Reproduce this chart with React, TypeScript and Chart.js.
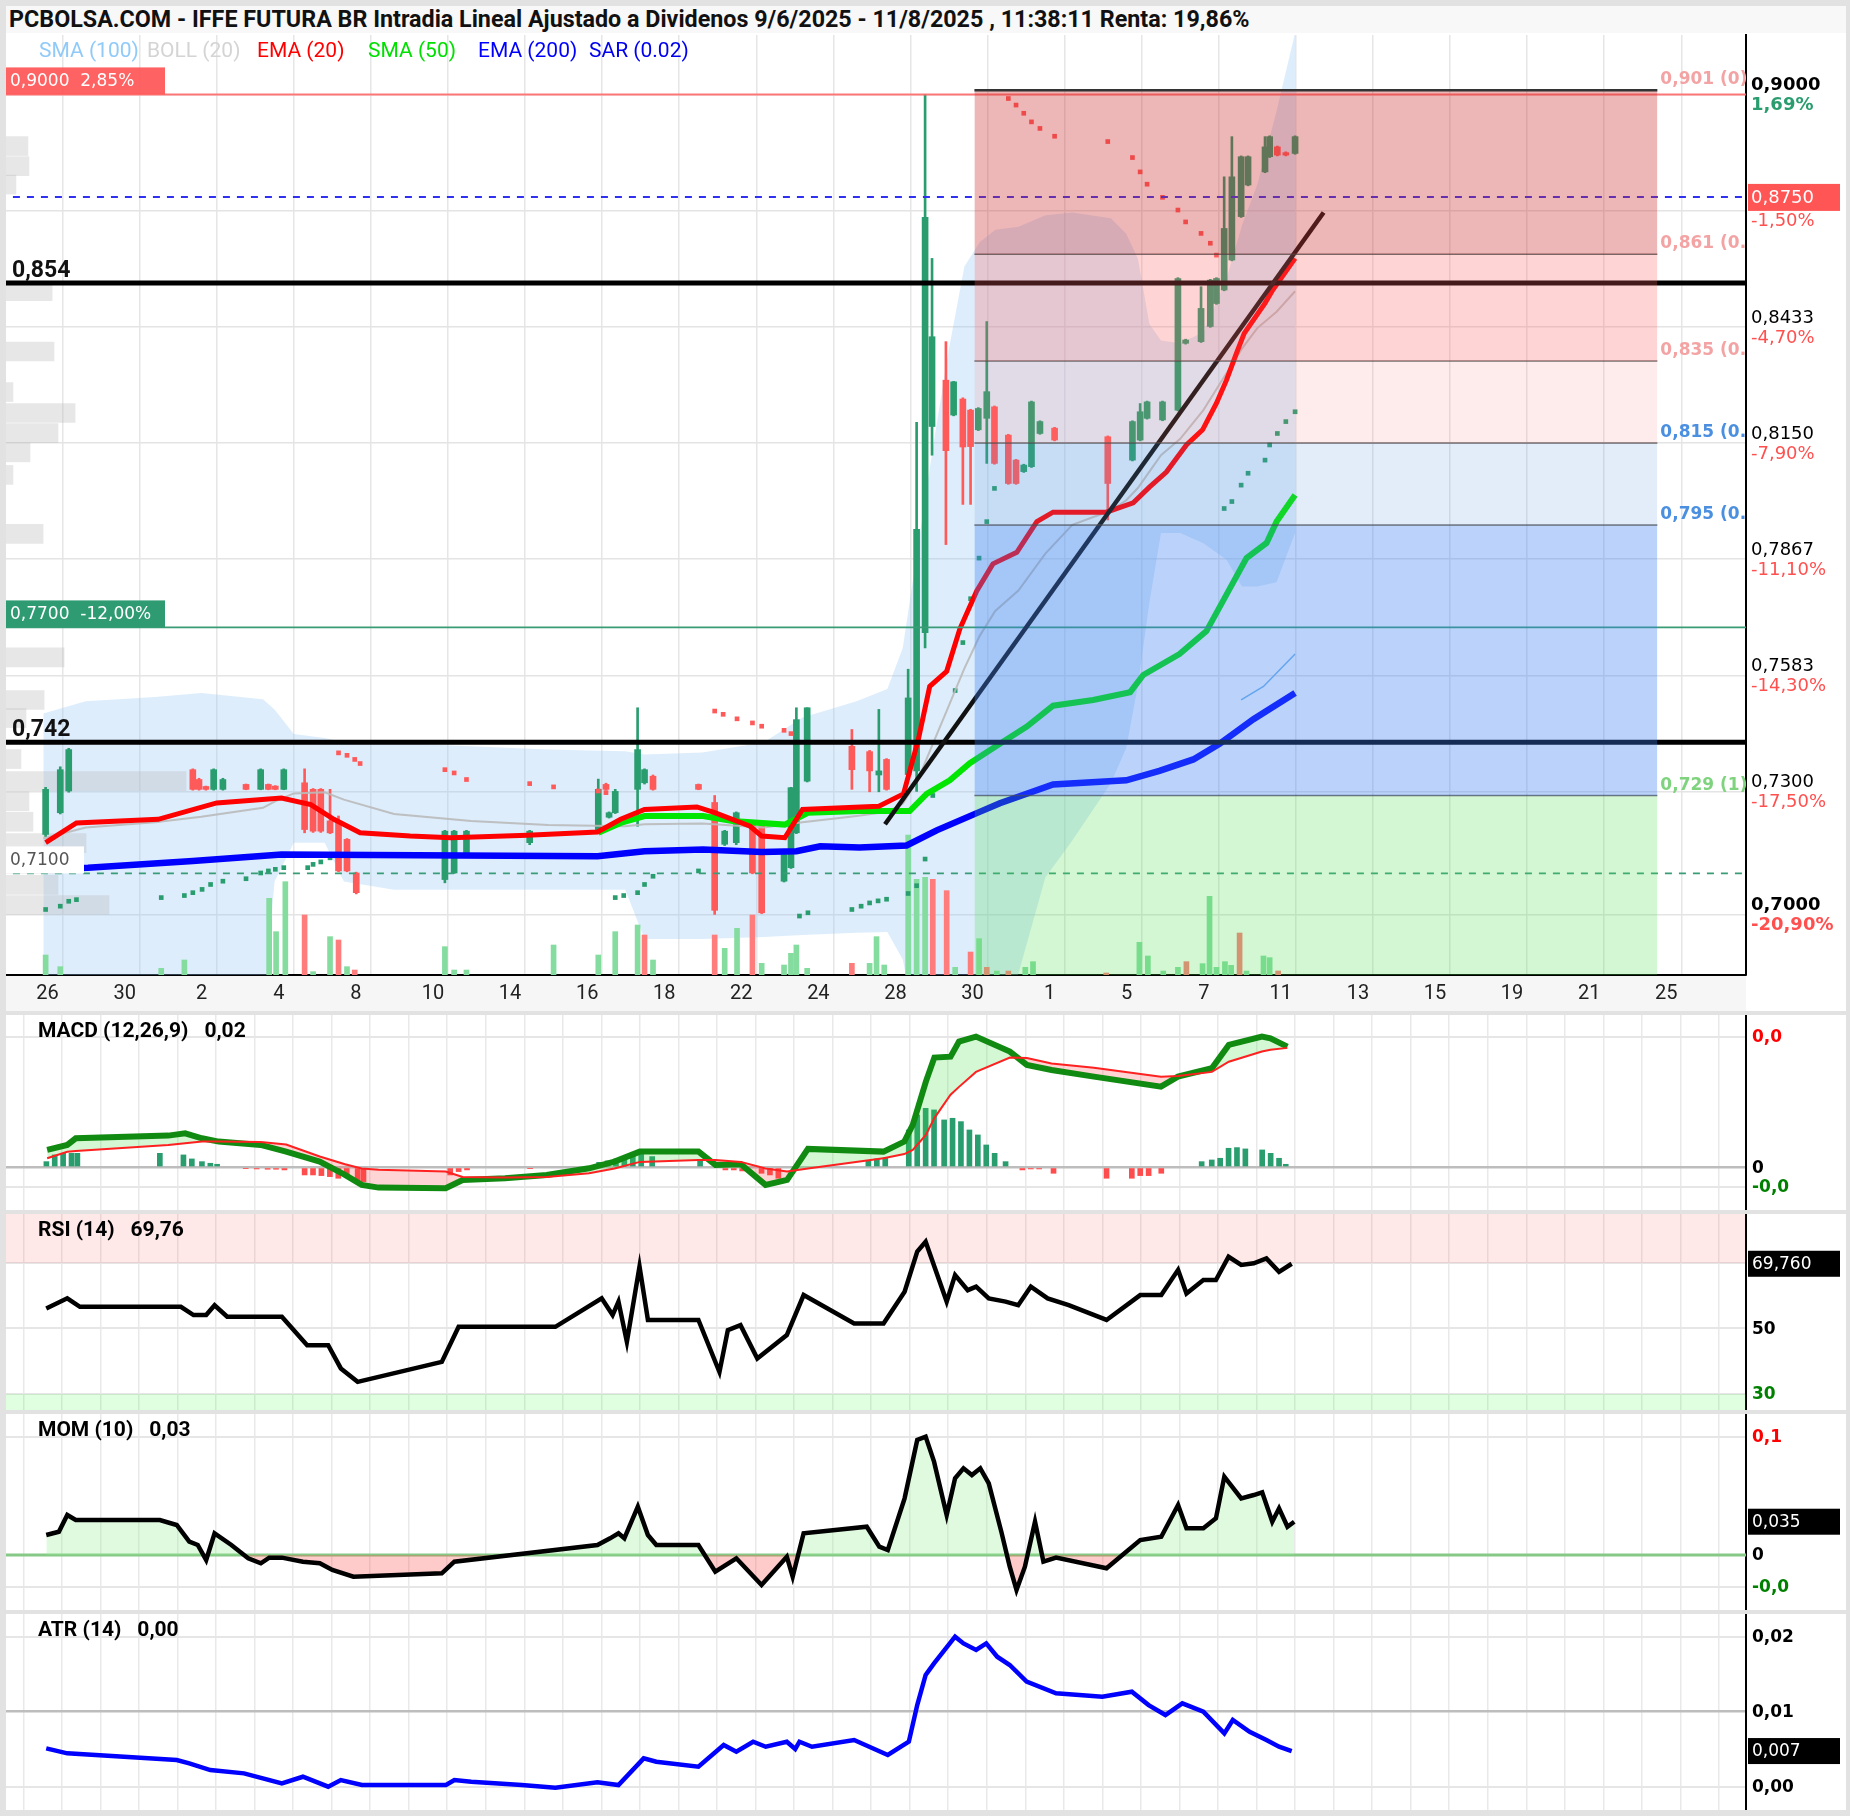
import React, { useEffect, useRef } from 'react';
import { Chart, registerables } from 'chart.js';

Chart.register(...registerables);

const TITLE = 'PCBOLSA.COM - IFFE FUTURA BR Intradia Lineal Ajustado a Dividenos 9/6/2025 - 11/8/2025 , 11:38:11 Renta: 19,86%';

const X_MIN = -0.534;
const X_MAX = 22.04;
const Y_MIN = 0.68522;
const Y_MAX = 0.91449;

const xLabels = ['26', '30', '2', '4', '8', '10', '14', '16', '18', '22', '24', '28', '30', '1', '5', '7', '11', '13', '15', '19', '21', '25'];

// [x, open, high, low, close]
const candles = [
  [-0.02, 0.7195, 0.731, 0.719, 0.7305], [0.17, 0.7248, 0.736, 0.7245, 0.7353], [0.28, 0.7301, 0.7405, 0.7298, 0.7402],
  [1.89, 0.7353, 0.7355, 0.7303, 0.7305], [1.97, 0.7329, 0.7332, 0.7303, 0.7305], [2.06, 0.7312, 0.7313, 0.7303, 0.7305],
  [2.16, 0.7305, 0.7355, 0.7303, 0.7353], [2.28, 0.7305, 0.7332, 0.7303, 0.7329], [2.58, 0.7317, 0.7318, 0.7304, 0.7305],
  [2.77, 0.7305, 0.7355, 0.7304, 0.7353], [2.87, 0.7317, 0.7318, 0.7304, 0.7305], [2.96, 0.7313, 0.7314, 0.7304, 0.7305],
  [3.07, 0.7305, 0.7355, 0.7304, 0.7353], [3.34, 0.7321, 0.7355, 0.7199, 0.7207], [3.45, 0.7305, 0.7307, 0.72, 0.7203],
  [3.55, 0.7305, 0.7307, 0.72, 0.7203], [3.67, 0.7228, 0.7305, 0.7197, 0.7199], [3.78, 0.7224, 0.724, 0.7104, 0.7106],
  [3.89, 0.7183, 0.7185, 0.7104, 0.7106], [4.01, 0.7101, 0.7103, 0.705, 0.7053],
  [5.16, 0.7085, 0.7205, 0.7077, 0.7203], [5.28, 0.7101, 0.7205, 0.71, 0.7203], [5.44, 0.715, 0.7205, 0.7148, 0.7203],
  [6.26, 0.7175, 0.7205, 0.717, 0.7203],
  [7.15, 0.7199, 0.733, 0.7198, 0.7305], [7.25, 0.7317, 0.732, 0.7303, 0.7305], [7.29, 0.7237, 0.725, 0.7235, 0.7248],
  [7.37, 0.7248, 0.7305, 0.7246, 0.73], [7.66, 0.7305, 0.7504, 0.7215, 0.7402], [7.75, 0.7321, 0.7355, 0.7318, 0.7353],
  [7.86, 0.7337, 0.734, 0.7303, 0.7305], [8.45, 0.7317, 0.7318, 0.7304, 0.7305], [8.66, 0.7273, 0.729, 0.7, 0.701],
  [8.79, 0.7171, 0.7205, 0.7168, 0.7203], [8.94, 0.7175, 0.725, 0.717, 0.7248], [9.15, 0.7224, 0.7226, 0.7099, 0.7101],
  [9.27, 0.7215, 0.7217, 0.7002, 0.7004], [9.56, 0.7081, 0.7148, 0.7079, 0.7146], [9.65, 0.7114, 0.731, 0.7112, 0.7309],
  [9.72, 0.7199, 0.7504, 0.7197, 0.7475], [9.86, 0.7325, 0.7504, 0.7323, 0.7504], [10.44, 0.741, 0.7451, 0.7305, 0.7353],
  [10.67, 0.7397, 0.74, 0.7299, 0.735], [10.79, 0.734, 0.75, 0.7299, 0.735], [10.89, 0.7378, 0.738, 0.7303, 0.7305],
  [11.17, 0.7341, 0.7598, 0.7331, 0.7528], [11.28, 0.735, 0.82, 0.73, 0.7939], [11.39, 0.7687, 0.9, 0.765, 0.87],
  [11.48, 0.819, 0.86, 0.812, 0.8409], [11.66, 0.8303, 0.8397, 0.7902, 0.8131], [11.76, 0.8218, 0.83, 0.8216, 0.8299],
  [11.88, 0.8257, 0.826, 0.8, 0.814], [11.98, 0.823, 0.8232, 0.8, 0.8141], [12.08, 0.8182, 0.8236, 0.818, 0.8234],
  [12.19, 0.821, 0.8446, 0.81, 0.8275], [12.29, 0.8238, 0.824, 0.8098, 0.81], [12.47, 0.8169, 0.8171, 0.8049, 0.8051],
  [12.57, 0.8108, 0.811, 0.8049, 0.8051], [12.67, 0.808, 0.8098, 0.8078, 0.8096], [12.77, 0.8092, 0.8252, 0.809, 0.825],
  [12.88, 0.8173, 0.8204, 0.8171, 0.8202], [13.07, 0.8186, 0.8188, 0.8155, 0.8157], [13.76, 0.8165, 0.8167, 0.7962, 0.8051],
  [14.08, 0.8108, 0.8204, 0.8106, 0.8202], [14.18, 0.8157, 0.8246, 0.8155, 0.8226], [14.27, 0.821, 0.8252, 0.8208, 0.825],
  [14.47, 0.8206, 0.8252, 0.8204, 0.825], [14.67, 0.823, 0.8553, 0.8228, 0.8551], [14.77, 0.8393, 0.8403, 0.8391, 0.8401],
  [14.97, 0.8397, 0.8531, 0.8395, 0.8478], [15.09, 0.8434, 0.8549, 0.8432, 0.8547], [15.17, 0.849, 0.8553, 0.8488, 0.8551],
  [15.27, 0.8523, 0.8799, 0.8521, 0.8673], [15.37, 0.8596, 0.8897, 0.8594, 0.8799], [15.49, 0.8702, 0.885, 0.87, 0.8848],
  [15.58, 0.8779, 0.885, 0.8777, 0.8848], [15.8, 0.8811, 0.8897, 0.8809, 0.8872], [15.86, 0.8848, 0.8899, 0.8846, 0.8897],
  [15.96, 0.8872, 0.8874, 0.885, 0.8852], [16.07, 0.8858, 0.886, 0.885, 0.8852], [16.19, 0.8856, 0.8899, 0.8854, 0.8897],
];

// [x, volume (thousands), 1 = up / 0 = down]
const volumeBars = [
  [-0.02, 6, 1], [0.17, 2.5, 1], [1.48, 2, 1], [1.78, 4.5, 1], [2.88, 23, 1], [2.97, 13, 1], [3.09, 28, 1], [3.34, 18, 0],
  [3.45, 1, 1], [3.67, 11.5, 1], [3.78, 10.5, 0], [3.89, 2.5, 1], [3.99, 1.5, 0], [5.16, 8.5, 1], [5.28, 1.5, 1], [5.44, 1.5, 1],
  [6.57, 9, 1], [7.15, 6, 1], [7.37, 13, 1], [7.66, 15, 1], [7.75, 12, 0], [7.86, 4.5, 1], [8.66, 12, 0], [8.79, 8, 1],
  [8.95, 14, 1], [9.15, 18, 0], [9.27, 3.5, 1], [9.56, 3, 1], [9.65, 6.5, 1], [9.72, 9, 1], [9.86, 2, 1], [10.44, 3.5, 0],
  [10.67, 3.5, 1], [10.76, 11.5, 1], [10.86, 3, 1], [11.17, 42, 1], [11.28, 28.7, 1], [11.39, 29.3, 1], [11.49, 28.7, 0],
  [11.67, 25.3, 0], [11.78, 2.3, 1], [11.98, 6.9, 0], [12.09, 10.9, 1], [12.19, 2.3, 0], [12.32, 1.2, 1], [12.47, 1.2, 0],
  [12.69, 2.3, 1], [12.79, 4, 1], [13.74, 0.6, 0], [14.17, 9.8, 1], [14.28, 5.7, 1], [14.48, 1.2, 1], [14.67, 2.3, 1],
  [14.78, 4, 0], [14.99, 3.4, 1], [15.08, 23.6, 1], [15.17, 2.3, 1], [15.28, 4, 1], [15.36, 2.9, 1], [15.47, 12.6, 0],
  [15.56, 1.2, 1], [15.78, 5.7, 1], [15.86, 5.2, 1], [15.97, 1.2, 0],
];

// [price level, volume]
const volumeProfile = [
  [0.8874, 12.6], [0.8825, 13.2], [0.878, 5.7], [0.852, 26.5], [0.8373, 27.6], [0.8274, 4], [0.8223, 39.7], [0.8174, 29.9],
  [0.8127, 13.8], [0.8072, 4], [0.7928, 21.3], [0.7627, 33.4], [0.7523, 21.9], [0.7479, 11.5], [0.7379, 8.6], [0.7325, 103.5],
  [0.7276, 13.2], [0.7226, 15.5], [0.7174, 46], [0.7123, 29.9], [0.7072, 29.9], [0.7023, 59.2],
];

// [x, upper, middle, lower]
const bollinger = [
  [-0.05, 0.749, 0.7185, 0.67], [0.5, 0.752, 0.7212, 0.67], [1.4, 0.753, 0.7225, 0.67], [2.0, 0.754, 0.7238, 0.67],
  [2.8, 0.7525, 0.726, 0.675], [2.95, 0.75, 0.7275, 0.708], [3.2, 0.744, 0.7295, 0.7175], [3.6, 0.743, 0.7298, 0.7175],
  [3.85, 0.742, 0.728, 0.708], [4.5, 0.7418, 0.7245, 0.706], [5.5, 0.741, 0.7228, 0.706], [6.5, 0.7402, 0.7218, 0.706],
  [7.5, 0.7398, 0.7215, 0.706], [7.75, 0.739, 0.722, 0.694], [8.5, 0.7395, 0.7222, 0.694], [9.3, 0.742, 0.7212, 0.6945],
  [9.8, 0.748, 0.7225, 0.695], [10.5, 0.752, 0.724, 0.6955], [10.9, 0.755, 0.725, 0.6957], [11.1, 0.765, 0.727, 0.689],
  [11.3, 0.79, 0.733, 0.67], [11.5, 0.815, 0.742, 0.66], [11.7, 0.838, 0.751, 0.66], [11.9, 0.858, 0.76, 0.66],
  [12.1, 0.864, 0.768, 0.66], [12.3, 0.867, 0.774, 0.66], [12.6, 0.8677, 0.779, 0.6855], [12.95, 0.8705, 0.788, 0.709],
  [13.3, 0.8712, 0.795, 0.718], [13.8, 0.8698, 0.7985, 0.732], [14.0, 0.866, 0.801, 0.7406], [14.15, 0.86, 0.804, 0.7557],
  [14.3, 0.844, 0.808, 0.776], [14.45, 0.84, 0.812, 0.793], [14.7, 0.8393, 0.816, 0.793], [15.0, 0.842, 0.823, 0.7905],
  [15.3, 0.855, 0.832, 0.7865], [15.5, 0.868, 0.838, 0.78], [15.7, 0.878, 0.843, 0.78], [15.95, 0.896, 0.847, 0.781],
  [16.19, 0.915, 0.852, 0.793],
];

const ema20 = [
  [-0.02, 0.7175], [0.38, 0.7223], [1.44, 0.7232], [2.2, 0.7272], [3.04, 0.7284], [3.42, 0.7268], [3.72, 0.7232], [4.06, 0.7199],
  [4.71, 0.7191], [5.24, 0.7187], [6.23, 0.7193], [7.14, 0.7201], [7.44, 0.7232], [7.75, 0.7256], [8.43, 0.7262], [8.66, 0.7248],
  [9.12, 0.7215], [9.27, 0.7191], [9.57, 0.7187], [9.8, 0.7256], [10.79, 0.7264], [11.11, 0.7294], [11.3, 0.7425], [11.45, 0.7556],
  [11.67, 0.7593], [11.84, 0.7696], [12.06, 0.7789], [12.27, 0.7855], [12.58, 0.7883], [12.84, 0.7958], [13.05, 0.7981],
  [13.74, 0.7981], [14.09, 0.8004], [14.3, 0.8042], [14.52, 0.8079], [14.78, 0.8145], [14.99, 0.8182], [15.17, 0.8247],
  [15.3, 0.8303], [15.43, 0.8369], [15.53, 0.8417], [15.8, 0.8491], [15.9, 0.8523], [16.19, 0.86],
];

const sma50 = [
  [7.15, 0.7199], [7.44, 0.7223], [7.75, 0.724], [8.51, 0.724], [8.89, 0.7228], [9.57, 0.7219], [9.87, 0.7248], [10.54, 0.7252],
  [11.19, 0.7252], [11.41, 0.7294], [11.71, 0.7327], [11.97, 0.7369], [12.36, 0.7416], [12.71, 0.7458], [13.05, 0.7509],
  [13.57, 0.7523], [14.05, 0.7542], [14.22, 0.7584], [14.69, 0.7635], [15.04, 0.7691], [15.3, 0.778], [15.56, 0.7869],
  [15.82, 0.7906], [15.95, 0.7958], [16.19, 0.8023],
];

const ema200 = [
  [0.0, 0.711], [0.53, 0.7114], [1.89, 0.713], [3.04, 0.7146], [7.14, 0.7142], [7.75, 0.7154], [8.51, 0.7158], [9.27, 0.7152],
  [9.72, 0.7154], [10.03, 0.7166], [10.54, 0.7163], [11.15, 0.7168], [11.54, 0.7205], [12.06, 0.7247], [12.36, 0.7271],
  [13.05, 0.7317], [14.0, 0.7327], [14.43, 0.735], [14.87, 0.7378], [15.21, 0.7416], [15.65, 0.7476], [16.19, 0.754],
];

const sma100 = [[15.49, 0.7523], [15.78, 0.7556], [16.19, 0.7635]];

const sarBelow = [
  [-0.02, 0.7012], [0.17, 0.702], [0.28, 0.7032], [0.38, 0.7036], [1.48, 0.7041], [1.78, 0.7046], [1.89, 0.7053], [2.01, 0.7061],
  [2.12, 0.7073], [2.28, 0.7081], [2.58, 0.7087], [2.77, 0.7101], [2.87, 0.7106], [2.96, 0.711], [3.07, 0.7114], [3.38, 0.7114],
  [3.45, 0.7122], [3.55, 0.7128], [3.67, 0.7138], [7.37, 0.7041], [7.48, 0.7046], [7.66, 0.7053], [7.75, 0.7073], [7.86, 0.7093],
  [8.45, 0.7106], [9.76, 0.6996], [9.87, 0.7004], [10.44, 0.7012], [10.56, 0.702], [10.67, 0.7028], [10.78, 0.7033],
  [10.89, 0.7037], [11.17, 0.7051], [11.28, 0.707], [11.39, 0.7135], [11.49, 0.729], [11.78, 0.7546], [11.88, 0.7663],
  [11.98, 0.777], [12.09, 0.7869], [12.19, 0.7958], [12.29, 0.8039], [15.27, 0.799], [15.37, 0.8007], [15.49, 0.8047],
  [15.58, 0.8076], [15.8, 0.8108], [15.86, 0.8145], [15.96, 0.8173], [16.07, 0.8202], [16.19, 0.8226],
];

const sarAbove = [
  [3.78, 0.7394], [3.89, 0.7388], [3.99, 0.7378], [4.06, 0.7368], [5.16, 0.7353], [5.28, 0.7345], [5.44, 0.7329], [6.26, 0.7319],
  [6.57, 0.7311], [7.15, 0.7301], [7.25, 0.7297], [8.66, 0.7496], [8.77, 0.7488], [8.95, 0.7477], [9.15, 0.7467], [9.27, 0.7459],
  [9.56, 0.7449], [9.65, 0.7441], [12.47, 0.899], [12.57, 0.8974], [12.67, 0.8954], [12.77, 0.8933], [12.88, 0.8917],
  [13.07, 0.8898], [13.76, 0.8885], [14.08, 0.8846], [14.18, 0.8811], [14.27, 0.8781], [14.47, 0.8749], [14.67, 0.8718],
  [14.77, 0.8689], [14.97, 0.8661], [15.09, 0.8637], [15.17, 0.8608],
];

const trendLine = [[10.87, 0.722], [16.56, 0.8712]];

const fibLevels = [0.901, 0.861, 0.835, 0.815, 0.795, 0.729];
const fibNames = ['0,901 (0)', '0,861 (0.236)', '0,835 (0.382)', '0,815 (0.5)', '0,795 (0.618)', '0,729 (1)'];
const FIB_X0 = 12.03;
const FIB_X1 = 20.89;

const axisValues = [0.9, 0.8717, 0.8433, 0.815, 0.7867, 0.7583, 0.73, 0.7];
const axisPrices = ['0,9000', '', '0,8433', '0,8150', '0,7867', '0,7583', '0,7300', '0,7000'];
const axisPercents = ['1,69%', '-1,50%', '-4,70%', '-7,90%', '-11,10%', '-14,30%', '-17,50%', '-20,90%'];
const LAST_PRICE = 0.875;

const legendItems = ['SMA (100)', 'BOLL (20)', 'EMA (20)', 'SMA (50)', 'EMA (200)', 'SAR (0.02)'];

// MACD: [x, macd, signal]
const macd = [
  [0.0, 0.00289, 0.0015], [0.261, 0.00372, 0.0026], [0.371, 0.00483, 0.0027], [1.571, 0.00528, 0.0037], [1.79, 0.00567, 0.004],
  [2.008, 0.00483, 0.0043], [2.226, 0.00428, 0.0043], [2.77, 0.00372, 0.0042], [3.1, 0.00261, 0.0038], [3.536, 0.00094, 0.0018],
  [3.864, -0.00128, 0.0005], [4.08, -0.00294, -0.0002], [4.3, -0.00339, -0.0004], [5.17, -0.0035, -0.0007], [5.39, -0.00211, -0.0016],
  [5.94, -0.00183, -0.0017], [6.48, -0.00128, -0.0016], [7.03, -0.00017, -0.001], [7.36, 0.00094, -0.0002], [7.69, 0.00261, 0.0009],
  [8.45, 0.00261, 0.0012], [8.67, 0.00039, 0.0012], [9.0, 0.0005, 0.0009], [9.32, -0.00294, -0.0002], [9.6, -0.00211, -0.0007],
  [9.87, 0.00306, -0.0002], [10.85, 0.00261, 0.0015], [11.12, 0.00428, 0.0022], [11.23, 0.00706, 0.0029], [11.4, 0.01428, 0.0054],
  [11.51, 0.01828, 0.0082], [11.72, 0.01844, 0.0121], [11.83, 0.02094, 0.0134], [12.05, 0.02178, 0.0159], [12.49, 0.01928, 0.0183],
  [12.71, 0.01706, 0.0182], [13.03, 0.01622, 0.0173], [13.58, 0.01511, 0.0166], [14.45, 0.01344, 0.0151], [14.67, 0.01511, 0.0152],
  [15.11, 0.0165, 0.0159], [15.33, 0.02039, 0.0176], [15.76, 0.02178, 0.0193], [15.87, 0.0215, 0.0196], [16.09, 0.02011, 0.0199],
];

const macdHist = [
  [-0.01, 0.00094], [0.098, 0.00206], [0.207, 0.00233], [0.316, 0.00233], [0.392, 0.00233], [1.462, 0.00233], [1.768, 0.00206],
  [1.877, 0.00139], [2.008, 0.00094], [2.117, 0.00067], [2.205, 0.0005], [2.576, -0.00017], [2.718, -0.00028], [2.86, -0.00033],
  [2.969, -0.00033], [3.078, -0.00044], [3.34, -0.00128], [3.449, -0.00128], [3.558, -0.00139], [3.668, -0.00156], [3.777, -0.00183],
  [3.886, -0.00172], [4.028, -0.00239], [4.104, -0.00239], [5.229, -0.00128], [5.338, -0.00072], [5.447, -0.00044], [6.266, -0.00017],
  [7.161, 0.00083], [7.27, 0.00106], [7.379, 0.00139], [7.488, 0.00161], [7.598, 0.00194], [7.707, 0.00217], [7.849, 0.00178],
  [8.471, 0.00106], [8.799, -0.00044], [8.908, -0.00044], [9.017, -0.00061], [9.268, -0.001], [9.377, -0.00128], [9.486, -0.00183],
  [10.654, 0.00106], [10.764, 0.00139], [10.873, 0.00161], [11.178, 0.00622], [11.288, 0.00872], [11.397, 0.00983], [11.506, 0.00956],
  [11.637, 0.00789], [11.746, 0.00817], [11.855, 0.00761], [11.965, 0.00622], [12.074, 0.00539], [12.183, 0.00372], [12.292, 0.00233],
  [12.434, 0.00094], [12.652, -0.00044], [12.761, -0.00028], [12.87, -0.00028], [13.056, -0.001], [13.744, -0.00183],
  [14.072, -0.00183], [14.181, -0.00139], [14.29, -0.00139], [14.454, -0.001], [14.978, 0.00094], [15.109, 0.00122], [15.218, 0.0015],
  [15.327, 0.00317], [15.436, 0.00328], [15.545, 0.00306], [15.763, 0.00289], [15.873, 0.00233], [15.982, 0.0015], [16.069, 0.0005],
];

const rsi = [
  [-0.012, 56.1], [0.261, 59.2], [0.425, 56.6], [1.735, 56.6], [1.899, 54.1], [2.063, 54.1], [2.172, 57.1], [2.336, 53.6],
  [3.045, 53.6], [3.373, 44.9], [3.646, 44.9], [3.81, 37.8], [4.028, 33.7], [5.12, 39.8], [5.338, 50.5], [6.593, 50.5],
  [7.194, 59.2], [7.336, 54.1], [7.412, 58.2], [7.521, 45.9], [7.685, 68.9], [7.794, 52.6], [8.449, 52.6], [8.722, 36.7],
  [8.831, 49.5], [8.995, 51.0], [9.213, 40.8], [9.596, 48.0], [9.814, 60.2], [10.469, 51.5], [10.851, 51.5], [11.124, 61.2],
  [11.288, 73.5], [11.397, 76.5], [11.67, 58.2], [11.779, 66.3], [11.943, 61.7], [12.052, 62.8], [12.216, 59.2], [12.434, 58.2],
  [12.598, 57.1], [12.762, 62.8], [12.98, 59.2], [13.253, 57.1], [13.744, 52.6], [14.181, 60.2], [14.454, 60.2], [14.672, 67.9],
  [14.781, 60.7], [15.0, 64.8], [15.163, 64.8], [15.327, 71.9], [15.491, 69.4], [15.654, 69.9], [15.818, 71.4], [15.982, 67.3],
  [16.146, 69.76],
];

const momentum = [
  [-0.012, 0.0212], [0.152, 0.0247], [0.261, 0.0424], [0.371, 0.0371], [1.462, 0.0371], [1.681, 0.0318], [1.844, 0.0141],
  [1.954, 0.0106], [2.063, -0.0053], [2.172, 0.023], [2.39, 0.0106], [2.608, -0.0035], [2.772, -0.0088], [2.881, -0.0028],
  [3.045, -0.0028], [3.318, -0.0071], [3.537, -0.0088], [3.7, -0.0159], [3.973, -0.023], [5.12, -0.0194], [5.283, -0.0071],
  [7.139, 0.0106], [7.303, 0.0177], [7.412, 0.023], [7.488, 0.0177], [7.663, 0.0513], [7.794, 0.0212], [7.903, 0.0106],
  [8.449, 0.0106], [8.668, -0.0177], [8.941, -0.0035], [9.268, -0.0318], [9.596, -0.0018], [9.672, -0.023], [9.814, 0.023],
  [10.633, 0.03], [10.796, 0.0088], [10.906, 0.0053], [11.124, 0.0601], [11.288, 0.122], [11.397, 0.1255], [11.506, 0.099],
  [11.67, 0.0424], [11.779, 0.0813], [11.888, 0.0919], [11.997, 0.0848], [12.106, 0.0919], [12.216, 0.076], [12.379, 0.0247],
  [12.488, -0.0124], [12.576, -0.0371], [12.685, -0.0124], [12.816, 0.0353], [12.925, -0.0071], [13.089, -0.0028],
  [13.744, -0.0141], [14.181, 0.0159], [14.454, 0.0194], [14.672, 0.053], [14.781, 0.0283], [15.0, 0.0283], [15.163, 0.0389],
  [15.272, 0.0831], [15.491, 0.0601], [15.654, 0.0636], [15.763, 0.0665], [15.894, 0.0353], [15.982, 0.0495], [16.091, 0.03],
  [16.179, 0.0353],
];

const atr = [
  [-0.012, 0.00764], [0.261, 0.00708], [1.681, 0.00632], [1.844, 0.00594], [2.117, 0.00519], [2.554, 0.00481], [3.045, 0.00368],
  [3.318, 0.00443], [3.646, 0.0033], [3.81, 0.00405], [4.083, 0.00349], [5.174, 0.00349], [5.283, 0.00405], [5.502, 0.00387],
  [6.157, 0.00349], [6.593, 0.00319], [7.139, 0.00379], [7.412, 0.00349], [7.739, 0.00651], [7.903, 0.00613], [8.449, 0.00557],
  [8.777, 0.00802], [8.941, 0.00727], [9.159, 0.0084], [9.323, 0.00783], [9.596, 0.0084], [9.705, 0.00757], [9.76, 0.0084],
  [9.923, 0.00783], [10.469, 0.00859], [10.906, 0.00689], [11.179, 0.0084], [11.288, 0.01255], [11.397, 0.01596], [11.506, 0.01728],
  [11.779, 0.0203], [11.888, 0.01954], [12.052, 0.01879], [12.183, 0.01954], [12.325, 0.01803], [12.488, 0.01709], [12.707, 0.0152],
  [13.089, 0.01388], [13.689, 0.0135], [14.072, 0.01407], [14.29, 0.01255], [14.508, 0.01142], [14.727, 0.01274], [15.0, 0.0118],
  [15.272, 0.00934], [15.382, 0.01086], [15.6, 0.00953], [15.818, 0.00859], [15.982, 0.00783], [16.146, 0.00734],
];

const GREEN = '#2a9d6f';
const RED = '#ff5a5a';

function pts(arr: number[][], k = 1) {
  return arr.map((p) => ({ x: p[0], y: p[k] }));
}

function lineDs(data: any[], color: string, width: number, order: number, extra: any = {}) {
  return { type: 'line', data, borderColor: color, borderWidth: width, pointRadius: 0, tension: 0, fill: false, order, ...extra };
}

function hLine(v: number, color: string, width: number, order: number, dash: number[] = []) {
  return lineDs([{ x: X_MIN - 1, y: v }, { x: X_MAX + 1, y: v }], color, width, order, { borderDash: dash });
}

function buildMain(): any {
  const up = candles.filter((c) => c[4] >= c[1]);
  const dn = candles.filter((c) => c[4] < c[1]);
  const fibFills = ['rgba(205,45,45,0.34)', 'rgba(250,95,95,0.27)', 'rgba(250,120,120,0.15)', 'rgba(100,150,220,0.18)', 'rgba(60,130,240,0.35)', 'rgba(80,220,80,0.25)'];
  const fibLabelColors = ['#f3a3a3', '#f3a3a3', '#f3a3a3', '#4a8fe0', '#4a8fe0', '#7fd37f'];
  const legendColors = ['#90caf9', '#d4d4d4', '#ff0000', '#00e000', '#0000ff', '#0000ee'];
  const legendX = [33, 141, 251, 362, 472, 583];

  const datasets: any[] = [
    lineDs(pts(bollinger, 1), 'rgba(0,0,0,0)', 0, 100, { fill: '+1', backgroundColor: 'rgba(150,200,245,0.32)' }),
    lineDs(pts(bollinger, 3), 'rgba(0,0,0,0)', 0, 100),
    {
      type: 'bar', indexAxis: 'y', xAxisID: 'xp', yAxisID: 'y',
      data: volumeProfile.map((p) => ({ y: p[0], x: p[1] })),
      backgroundColor: 'rgba(185,185,185,0.35)', barThickness: 19, grouped: false, order: 95,
    },
    {
      type: 'bar', yAxisID: 'yv', data: volumeBars.map((v) => ({ x: v[0], y: v[1] })),
      backgroundColor: volumeBars.map((v) => (v[2] ? '#84dc9f' : '#ff7c7c')), barThickness: 5, grouped: false, order: 90,
    },
    { type: 'bar', data: up.map((c) => ({ x: c[0], y: [c[3], c[2]] })), backgroundColor: GREEN, barThickness: 2, grouped: false, order: 82 },
    { type: 'bar', data: dn.map((c) => ({ x: c[0], y: [c[3], c[2]] })), backgroundColor: RED, barThickness: 2, grouped: false, order: 82 },
    { type: 'bar', data: up.map((c) => ({ x: c[0], y: [c[1], c[4]] })), backgroundColor: GREEN, barThickness: 6, minBarLength: 2, grouped: false, order: 81 },
    { type: 'bar', data: dn.map((c) => ({ x: c[0], y: [c[1], c[4]] })), backgroundColor: RED, barThickness: 6, minBarLength: 2, grouped: false, order: 81 },
    { type: 'scatter', data: pts(sarBelow), pointStyle: 'rect', pointRadius: 3.3, pointBackgroundColor: GREEN, pointBorderWidth: 0, showLine: false, order: 80 },
    { type: 'scatter', data: pts(sarAbove), pointStyle: 'rect', pointRadius: 3.3, pointBackgroundColor: RED, pointBorderWidth: 0, showLine: false, order: 80 },
    lineDs(pts(bollinger, 2), 'rgba(185,185,185,0.9)', 2, 70),
    lineDs(pts(sma100), '#7ab8f0', 1.5, 69),
    lineDs(pts(ema200), '#0000ff', 6.5, 68),
    lineDs(pts(sma50), '#00e600', 6, 67),
    lineDs(pts(ema20), '#ff0000', 5, 66),
    hLine(0.9, 'rgba(255,105,105,0.9)', 2, 60),
    hLine(LAST_PRICE, '#3030f0', 2, 60, [7, 7]),
    hLine(0.854, '#000000', 5, 60),
    hLine(0.77, '#3a9b77', 1.8, 60),
    hLine(0.742, '#000000', 5, 60),
    hLine(0.71, '#3a9b77', 1.8, 60, [7, 7]),
    lineDs(pts(trendLine), '#111111', 4.5, 59),
  ];
  fibLevels.forEach((lv, i) => {
    const bottom = i < fibLevels.length - 1 ? { value: fibLevels[i + 1] } : 'start';
    datasets.push(lineDs([{ x: FIB_X0, y: lv }, { x: FIB_X1, y: lv }], i === 0 ? '#333' : 'rgba(70,70,70,0.75)', i === 0 ? 2.5 : 1.5, 5, {
      fill: bottom, backgroundColor: fibFills[i],
    }));
  });

  const plugin = {
    id: 'mainDecor',
    beforeDraw(chart: any) {
      const { ctx, width, height, chartArea: ca } = chart;
      ctx.save();
      ctx.fillStyle = '#ffffff';
      ctx.fillRect(0, 0, width, height);
      ctx.fillStyle = '#f6f6f6';
      ctx.fillRect(0, ca.bottom, ca.right, height - ca.bottom);
      ctx.restore();
    },
    afterDraw(chart: any) {
      const { ctx, chartArea: ca } = chart;
      const ys = chart.scales.y;
      const xs = chart.scales.x;
      const Y = (v: number) => ys.getPixelForValue(v);
      ctx.save();
      ctx.font = '21px Roboto';
      ctx.textBaseline = 'middle';
      legendItems.forEach((t, i) => {
        ctx.fillStyle = legendColors[i];
        ctx.fillText(t, legendX[i], 19);
      });
      ctx.save();
      ctx.beginPath();
      ctx.rect(ca.left, ca.top, ca.right - ca.left, ca.bottom - ca.top);
      ctx.clip();
      ctx.font = 'bold 17px "DejaVu Sans"';
      ctx.textBaseline = 'alphabetic';
      fibLevels.forEach((lv, i) => {
        ctx.fillStyle = fibLabelColors[i];
        ctx.fillText(fibNames[i], xs.getPixelForValue(FIB_X1) + 3, Y(lv) - 6);
      });
      ctx.restore();

      ctx.font = 'bold 23px Roboto';
      ctx.fillStyle = '#111';
      ctx.textBaseline = 'alphabetic';
      ctx.fillText('0,854', ca.left + 6, Y(0.854) - 6);
      ctx.fillText('0,742', ca.left + 6, Y(0.742) - 6);

      const box = (v: number, w: number, bg: string, fg: string, text: string) => {
        const y = Y(v);
        ctx.fillStyle = bg;
        ctx.fillRect(ca.left, y - 27, w, 27);
        ctx.fillStyle = fg;
        ctx.font = '17px "DejaVu Sans"';
        ctx.textBaseline = 'middle';
        ctx.fillText(text, ca.left + 4, y - 13);
      };
      box(0.9, 159, 'rgba(255,85,85,0.92)', '#fff', '0,9000  2,85%');
      box(0.77, 159, '#2f9b72', '#fff', '0,7700  -12,00%');
      box(0.71, 78, '#fff', '#555', '0,7100');

      const lx = ca.right + 5;
      axisValues.forEach((v, i) => {
        const y = Y(v);
        const bold = i === 0 || i === axisValues.length - 1;
        ctx.font = (bold ? 'bold ' : '') + '18px "DejaVu Sans"';
        ctx.textBaseline = 'alphabetic';
        if (axisPrices[i]) {
          ctx.fillStyle = '#000';
          ctx.fillText(axisPrices[i], lx, y - 4);
        }
        ctx.fillStyle = i === 0 ? GREEN : '#ff5050';
        ctx.fillText(axisPercents[i], lx, y + 16);
      });
      const yc = Y(LAST_PRICE);
      ctx.fillStyle = '#ff5555';
      ctx.fillRect(ca.right + 2, yc - 13, 92, 27);
      ctx.fillStyle = '#fff';
      ctx.font = '18px "DejaVu Sans"';
      ctx.textBaseline = 'middle';
      ctx.fillText('0,8750', lx, yc + 1);
      ctx.restore();
    },
  };

  return {
    type: 'bar',
    data: { datasets },
    options: {
      responsive: false,
      animation: false,
      devicePixelRatio: 1,
      events: [],
      layout: { padding: { left: 0, right: 0, top: 2, bottom: 0 }, autoPadding: false },
      plugins: { legend: { display: false }, tooltip: { enabled: false } },
      scales: {
        x: {
          type: 'linear', min: X_MIN, max: X_MAX, offset: false,
          afterBuildTicks: (s: any) => { s.ticks = xLabels.map((_, i) => ({ value: i + 0.2 })); },
          ticks: { callback: (_v: any, i: number) => xLabels[i], font: { family: 'Roboto', size: 20 }, color: '#222', labelOffset: -15, padding: 7, maxRotation: 0, autoSkip: false },
          grid: { color: '#e6e6e6', lineWidth: 1.5, drawTicks: false, offset: false },
          border: { color: '#000', width: 2 },
          afterFit: (s: any) => { s.height = 36; },
        },
        xp: { type: 'linear', display: false, min: 0, max: 1000, offset: false, grid: { offset: false } },
        y: {
          type: 'linear', position: 'right', min: Y_MIN, max: Y_MAX, offset: false,
          afterBuildTicks: (s: any) => { s.ticks = axisValues.map((v) => ({ value: v })); },
          ticks: { display: false },
          grid: { color: '#e4e4e4', lineWidth: 1.5, drawTicks: false, offset: false },
          border: { color: '#000', width: 2 },
          afterFit: (s: any) => { s.width = 100; },
        },
        yv: { type: 'linear', display: false, min: 0, max: 282, offset: false, grid: { offset: false } },
      },
    },
    plugins: [plugin],
  };
}

type PanelLabel = { v: number; t: string; c: string };

function buildPanel(title: string, value: string, min: number, max: number, grid: number[], strong: number | null,
  datasets: any[], labels: PanelLabel[], box: { v: number; t: string } | null) {
  const plugin = {
    id: 'panel',
    beforeDraw(chart: any) {
      const { ctx, width, height } = chart;
      ctx.save();
      ctx.fillStyle = '#fff';
      ctx.fillRect(0, 0, width, height);
      ctx.restore();
    },
    afterDraw(chart: any) {
      const { ctx, chartArea: ca } = chart;
      const ys = chart.scales.y;
      ctx.save();
      ctx.font = 'bold 21px Roboto';
      ctx.fillStyle = '#000';
      ctx.textBaseline = 'middle';
      ctx.fillText(title, 32, 17);
      const w = ctx.measureText(title).width;
      ctx.fillText(value, 32 + w + 16, 17);
      ctx.font = 'bold 17px "DejaVu Sans"';
      labels.forEach((l) => {
        ctx.fillStyle = l.c;
        ctx.fillText(l.t, ca.right + 6, ys.getPixelForValue(l.v) + 1);
      });
      if (box) {
        const py = ys.getPixelForValue(box.v);
        ctx.fillStyle = '#000';
        ctx.fillRect(ca.right + 2, py - 13, 92, 26);
        ctx.fillStyle = '#fff';
        ctx.font = '17px "DejaVu Sans"';
        ctx.fillText(box.t, ca.right + 6, py + 1);
      }
      ctx.restore();
    },
  };
  return {
    type: 'bar',
    data: { datasets },
    options: {
      responsive: false,
      animation: false,
      devicePixelRatio: 1,
      events: [],
      layout: { padding: 0, autoPadding: false },
      plugins: { legend: { display: false }, tooltip: { enabled: false } },
      scales: {
        x: {
          type: 'linear', min: X_MIN, max: X_MAX, offset: false,
          afterBuildTicks: (s: any) => {
            const t: any[] = [];
            for (let v = -0.31; v < X_MAX; v += 0.5) t.push({ value: v });
            s.ticks = t;
          },
          ticks: { display: false },
          grid: { color: '#e9e9e9', lineWidth: 1.5, drawTicks: false, offset: false },
          border: { display: false },
          afterFit: (s: any) => { s.height = 0; },
        },
        y: {
          type: 'linear', position: 'right', min, max, offset: false,
          afterBuildTicks: (s: any) => { s.ticks = grid.map((v) => ({ value: v })); },
          ticks: { display: false },
          grid: {
            color: (c: any) => (strong !== null && c.tick && c.tick.value === strong ? '#bdbdbd' : '#e6e6e6'),
            lineWidth: (c: any) => (strong !== null && c.tick && c.tick.value === strong ? 2.5 : 2),
            drawTicks: false,
            offset: false,
          },
          border: { color: '#000', width: 2 },
          afterFit: (s: any) => { s.width = 100; },
        },
      },
    },
    plugins: [plugin],
  };
}

function buildMacd() {
  const datasets = [
    {
      type: 'bar', data: pts(macdHist), backgroundColor: macdHist.map((h) => (h[1] >= 0 ? GREEN : '#ff4d4d')),
      barThickness: 5, grouped: false, order: 3,
    },
    lineDs(pts(macd, 1), '#118a11', 6, 2, { fill: { target: '+1', above: 'rgba(60,220,60,0.22)', below: 'rgba(255,60,60,0.22)' } }),
    lineDs(pts(macd, 2), '#ff2020', 2, 1),
  ];
  return buildPanel('MACD (12,26,9)', '0,02', -0.00712, 0.02538, [0.02178, 0, -0.00322], 0, datasets,
    [{ v: 0.02178, t: '0,0', c: '#ff0000' }, { v: 0, t: '0', c: '#000' }, { v: -0.00322, t: '-0,0', c: '#008000' }],
    null);
}

function buildRsi() {
  const datasets = [
    lineDs([{ x: X_MIN - 1, y: 70 }, { x: X_MAX + 1, y: 70 }], 'rgba(0,0,0,0)', 0, 10, { fill: 'end', backgroundColor: 'rgba(255,0,0,0.09)' }),
    lineDs([{ x: X_MIN - 1, y: 30 }, { x: X_MAX + 1, y: 30 }], 'rgba(0,0,0,0)', 0, 10, { fill: 'start', backgroundColor: 'rgba(0,255,0,0.12)' }),
    lineDs(pts(rsi), '#000', 4.5, 1),
  ];
  return buildPanel('RSI (14)', '69,76', 25.1, 84.96, [70, 50, 30], null, datasets,
    [{ v: 50, t: '50', c: '#000' }, { v: 30, t: '30', c: '#008000' }], { v: 69.76, t: '69,760' });
}

function buildMom() {
  const datasets = [
    lineDs(pts(momentum), '#000', 4.5, 1, { fill: { target: { value: 0 }, above: 'rgba(150,240,150,0.3)', below: 'rgba(255,80,80,0.3)' } }),
    hLine(0, '#86c986', 3, 2),
  ];
  return buildPanel('MOM (10)', '0,03', -0.0583, 0.1495, [0.1255, 0, -0.0336], null, datasets,
    [{ v: 0.1255, t: '0,1', c: '#ff0000' }, { v: 0, t: '0', c: '#000' }, { v: -0.0336, t: '-0,0', c: '#008000' }],
    { v: 0.0353, t: '0,035' });
}

function buildAtr() {
  const datasets = [lineDs(pts(atr), '#0000ff', 4.5, 1)];
  return buildPanel('ATR (14)', '0,00', 0.00066, 0.02287, [0.0203, 0.0118, 0.0033], 0.0118, datasets,
    [{ v: 0.0203, t: '0,02', c: '#000' }, { v: 0.0118, t: '0,01', c: '#000' }, { v: 0.0033, t: '0,00', c: '#000' }],
    { v: 0.00734, t: '0,007' });
}

export default function App() {
  const mainRef = useRef<HTMLCanvasElement>(null);
  const macdRef = useRef<HTMLCanvasElement>(null);
  const rsiRef = useRef<HTMLCanvasElement>(null);
  const momRef = useRef<HTMLCanvasElement>(null);
  const atrRef = useRef<HTMLCanvasElement>(null);

  useEffect(() => {
    Chart.defaults.font.family = 'Roboto';
    const charts = [
      new Chart(mainRef.current as any, buildMain()),
      new Chart(macdRef.current as any, buildMacd() as any),
      new Chart(rsiRef.current as any, buildRsi() as any),
      new Chart(momRef.current as any, buildMom() as any),
      new Chart(atrRef.current as any, buildAtr() as any),
    ];
    return () => charts.forEach((c) => c.destroy());
  }, []);

  const cv = (top: number, h: number): any => ({ position: 'absolute', left: 6, top, width: 1840, height: h, display: 'block' });

  return (
    <div style={{ position: 'absolute', left: 0, top: 0, width: 1850, height: 1816, background: '#e2e2e2', overflow: 'hidden' }}>
      <div style={{
        position: 'absolute', left: 6, top: 6, width: 1840, height: 27, background: '#f8f8f8', font: 'bold 23.3px Roboto',
        lineHeight: '27px', color: '#111', paddingLeft: 3, boxSizing: 'border-box', whiteSpace: 'nowrap', overflow: 'hidden',
      }}>{TITLE}</div>
      <canvas ref={mainRef} width={1840} height={978} style={cv(33, 978)} />
      <canvas ref={macdRef} width={1840} height={195} style={cv(1015, 195)} />
      <canvas ref={rsiRef} width={1840} height={196} style={cv(1214, 196)} />
      <canvas ref={momRef} width={1840} height={196} style={cv(1414, 196)} />
      <canvas ref={atrRef} width={1840} height={196} style={cv(1614, 196)} />
    </div>
  );
}
